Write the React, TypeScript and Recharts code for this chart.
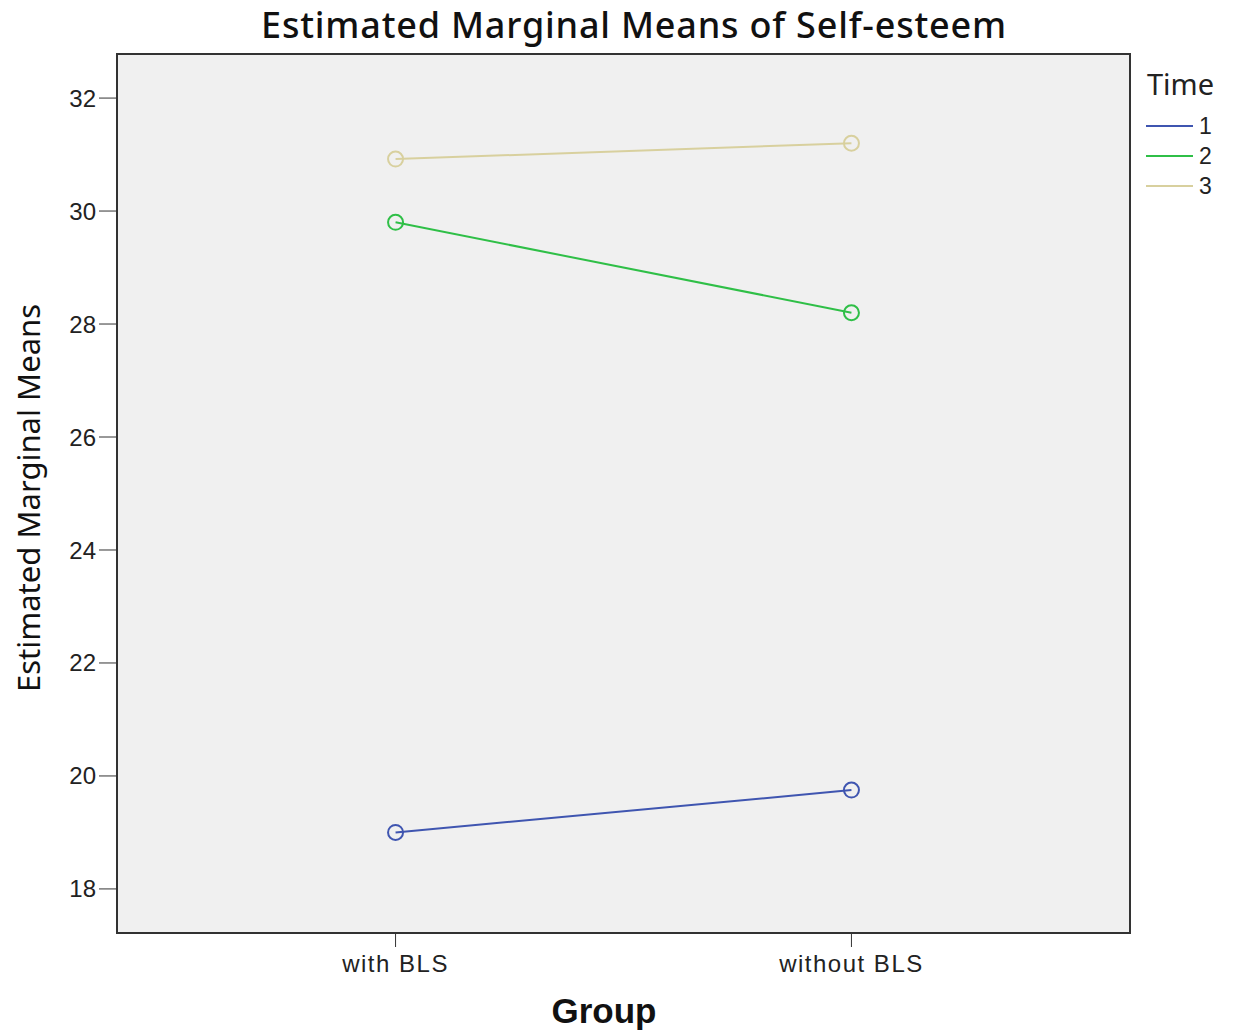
import React from 'react';
import { LineChart, Line, XAxis, YAxis, ReferenceArea } from 'recharts';

// Group levels on the x axis
const groups = ['with BLS', 'without BLS'];
const groupPos = [1, 2];

// Estimated marginal means per time point
const time1 = [19.0, 19.75];
const time2 = [29.8, 28.2];
const time3 = [30.92, 31.2];

const yTicks = [18, 20, 22, 24, 26, 28, 30, 32];

const series = [
  { key: 't1', name: '1', color: '#3f55b0' },
  { key: 't2', name: '2', color: '#2fbf47' },
  { key: 't3', name: '3', color: '#d8d09e' },
];

const data = groups.map((g, i) => ({
  group: g,
  x: groupPos[i],
  t1: time1[i],
  t2: time2[i],
  t3: time3[i],
}));

const X_DOMAIN: [number, number] = [0.389, 2.611];
const Y_DOMAIN: [number, number] = [17.22, 32.78];

const font = '"Liberation Sans", Arial, sans-serif';
const titleFont = '"Noto Sans", "Liberation Sans", sans-serif';

// SPSS-style legend sits outside the plot, so it's plain HTML
const TimeLegend = () => (
  <div style={{ position: 'absolute', left: 1146, top: 64, width: 100, height: 150, fontFamily: font }}>
    <div style={{ position: 'absolute', left: 1, top: 0, fontSize: 29, color: '#222', fontFamily: titleFont }}>Time</div>
    {series.map((s, i) => (
      <div key={s.key} style={{ position: 'absolute', left: 0, top: 48 + i * 30, height: 28, display: 'flex', alignItems: 'center' }}>
        <div style={{ width: 47, height: 2, background: s.color }} />
        <span style={{ fontSize: 23, marginLeft: 6, color: '#222' }}>{s.name}</span>
      </div>
    ))}
  </div>
);

export default function App() {
  return (
    <div style={{ position: 'absolute', left: 0, top: 0, width: 1235, height: 1036, background: '#fff' }}>
      <div style={{ position: 'absolute', left: 0, width: 1268, top: 0, textAlign: 'center', fontFamily: titleFont, fontWeight: 500, fontSize: 36, color: '#111', letterSpacing: 0.8, whiteSpace: 'nowrap' }}>
        Estimated Marginal Means of Self-esteem
      </div>
      <div
        style={{
          position: 'absolute',
          left: 28,
          top: 498,
          transform: 'translate(-50%, -50%) rotate(-90deg)',
          whiteSpace: 'nowrap',
          fontFamily: titleFont,
          fontSize: 31,
          color: '#111',
        }}
      >
        Estimated Marginal Means
      </div>
      <div style={{ position: 'absolute', left: 0, width: 1208, top: 991, textAlign: 'center', fontFamily: font, fontWeight: 'bold', fontSize: 35, color: '#111' }}>
        Group
      </div>
      <TimeLegend />
      <LineChart width={1235} height={1036} data={data} margin={{ top: 54, left: 116, right: 105, bottom: 102 }} style={{ position: 'absolute', left: 0, top: 0 }}>
        <ReferenceArea
          x1={X_DOMAIN[0]}
          x2={X_DOMAIN[1]}
          y1={Y_DOMAIN[0]}
          y2={Y_DOMAIN[1]}
          fill="#f0f0f0"
          fillOpacity={1}
          stroke="#333"
          strokeWidth={2}
          ifOverflow="visible"
        />
        <XAxis
          dataKey="x"
          type="number"
          domain={X_DOMAIN}
          ticks={groupPos}
          tickFormatter={(v: number) => groups[groupPos.indexOf(v)] ?? ''}
          height={1}
          tickSize={14}
          tickMargin={8}
          stroke="#333"
          tick={{ fill: '#222', fontSize: 24, fontFamily: font, letterSpacing: 1.5 }}
          allowDataOverflow
        />
        <YAxis
          type="number"
          domain={Y_DOMAIN}
          ticks={yTicks}
          width={1}
          tickSize={18}
          tickMargin={3}
          stroke="#333"
          tick={{ fill: '#222', fontSize: 24, fontFamily: font }}
          allowDataOverflow
        />
        {series.map((s) => (
          <Line
            key={s.key}
            dataKey={s.key}
            name={s.name}
            type="linear"
            stroke={s.color}
            strokeWidth={2}
            dot={{ r: 7.5, fill: 'none', stroke: s.color, strokeWidth: 2 }}
            activeDot={false}
            isAnimationActive={false}
          />
        ))}
      </LineChart>
    </div>
  );
}
